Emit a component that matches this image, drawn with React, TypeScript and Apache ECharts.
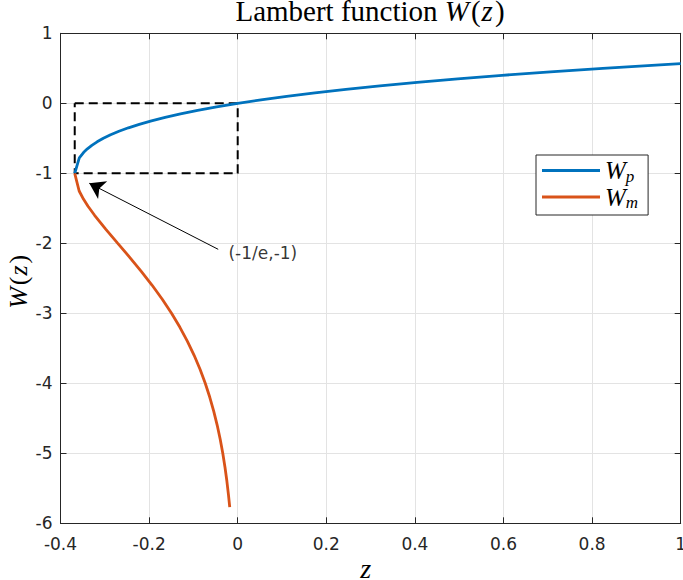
import React, { useEffect, useRef } from "react";
import * as echarts from "echarts";

// Axis ranges / ticks
const xMin = -0.4;
const xMax = 1;
const xStep = 0.2;
const yMin = -6;
const yMax = 1;
const yStep = 1;

// Upper branch W_p (z, W)
const wpZ = [-0.36788, -0.35756, -0.34761, -0.33933, -0.32929, -0.31732, -0.30327, -0.28693, -0.26813, -0.24664, -0.22225, -0.1947, -0.16375, -0.12911, -0.09048, -0.04756, 0, 0.05256, 0.11052, 0.17427, 0.24428, 0.32101, 0.40496, 0.49667, 0.59673, 0.70574, 0.82436, 0.95329, 1.0];
const wpW = [-1, -0.78, -0.7, -0.65, -0.6, -0.55, -0.5, -0.45, -0.4, -0.35, -0.3, -0.25, -0.2, -0.15, -0.1, -0.05, 0, 0.05, 0.1, 0.15, 0.2, 0.25, 0.3, 0.35, 0.4, 0.45, 0.5, 0.55, 0.5671];

// Lower branch W_m (z, W)
const wmZ = [-0.36788, -0.35788, -0.34788, -0.33788, -0.32304, -0.29754, -0.27067, -0.24377, -0.21772, -0.19311, -0.17027, -0.14936, -0.13044, -0.11347, -0.09836, -0.08501, -0.07326, -0.063, -0.05403, -0.04624, -0.0395, -0.03369, -0.02869, -0.02439, -0.02071, -0.01799];
const wmW = [-1, -1.253, -1.372, -1.471, -1.6, -1.8, -2.0, -2.2, -2.4, -2.6, -2.8, -3.0, -3.2, -3.4, -3.6, -3.8, -4.0, -4.2, -4.4, -4.6, -4.8, -5.0, -5.2, -5.4, -5.6, -5.77];

// Dashed box corners
const boxZ = [-0.36788, 0, 0, -0.36788, -0.36788];
const boxW = [0, 0, -1, -1, 0];

// Annotation
const arrowTail = [-0.044, -2.086];
const arrowHead = [-0.335, -1.143];
const noteAnchor = [-0.031, -2.143];
const noteText = "(-1/e,-1)";

const seriesNames = ["Wp", "Wm"];
const legendSubs = ["p", "m"];

const axisColor = "#262626";
const gridColor = "#e3e3e3";
const serif = "Liberation Serif";
const sans = "DejaVu Sans";

const fmt = (v: number) => String(Number(v.toFixed(1)));

export default function App() {
  const ref = useRef<HTMLDivElement>(null);
  useEffect(() => {
    if (!ref.current) return;
    const chart = echarts.init(ref.current, null, { renderer: "svg" });
    const mk = (size: number, style: string) => ({ fontFamily: serif, fontStyle: style, fontWeight: "normal", fontSize: size, color: "#000" });
    const mathRich = (size: number, lh: number) => ({
      n: { ...mk(size, "normal"), lineHeight: lh },
      i: { ...mk(size, "italic"), lineHeight: lh },
      lp: { ...mk(size, "normal"), lineHeight: lh, padding: [0, 1, 0, 2] },
      rp: { ...mk(size, "normal"), lineHeight: lh, padding: [0, 0, 0, 2] },
    });
    const option: any = {
      animation: false,
      backgroundColor: "#fff",
      title: {
        text: "{n|Lambert function }{i|W}{lp|(}{i|z}{rp|)}",
        left: 370,
        top: 0,
        padding: 0,
        textAlign: "center",
        textStyle: { fontWeight: "normal", rich: mathRich(29, 22) },
      },
      grid: { left: 60.5, right: 2.3, top: 33.3, bottom: 56.7, show: false, outerBoundsMode: "none", containLabel: false },
      legend: {
        data: seriesNames.map((n) => ({ name: n, icon: "rect" })),
        left: 536,
        top: 155,
        orient: "vertical",
        itemWidth: 58,
        itemHeight: 3,
        itemGap: 0,
        padding: [3, 10, 4, 6],
        backgroundColor: "#fff",
        borderColor: axisColor,
        borderWidth: 1,
        borderRadius: 0,
        selectedMode: false,
        formatter: (name: string) => `{i|W}{s|${legendSubs[seriesNames.indexOf(name)]}}`,
        textStyle: {
          rich: {
            i: { ...mk(25, "italic"), lineHeight: 28 },
            s: { ...mk(17, "italic"), lineHeight: 17, verticalAlign: "bottom" },
          },
        },
      },
      xAxis: [
        {
          type: "value",
          min: xMin,
          max: xMax,
          interval: xStep,
          position: "bottom",
          axisLine: { show: true, onZero: false, lineStyle: { color: axisColor, width: 1 } },
          axisTick: { show: true, inside: true, length: 6, lineStyle: { color: axisColor } },
          axisLabel: { show: true, margin: 12, color: axisColor, fontFamily: sans, fontSize: 17, formatter: fmt },
          splitLine: { show: true, lineStyle: { color: gridColor, width: 1 } },
          name: "{i|z}",
          nameLocation: "middle",
          nameGap: 35,
          nameMoveOverlap: false,
          nameTextStyle: { padding: [0, 10, 0, 0], rich: { i: { ...mk(28, "italic"), lineHeight: 20 } } },
        },
        {
          type: "value",
          min: xMin,
          max: xMax,
          interval: xStep,
          position: "top",
          axisLine: { show: true, onZero: false, lineStyle: { color: axisColor, width: 1 } },
          axisTick: { show: true, inside: true, length: 6, lineStyle: { color: axisColor } },
          axisLabel: { show: false },
          splitLine: { show: false },
        },
      ],
      yAxis: [
        {
          type: "value",
          min: yMin,
          max: yMax,
          interval: yStep,
          position: "left",
          axisLine: { show: true, onZero: false, lineStyle: { color: axisColor, width: 1 } },
          axisTick: { show: true, inside: true, length: 6, lineStyle: { color: axisColor } },
          axisLabel: { show: true, margin: 8, color: axisColor, fontFamily: sans, fontSize: 17, formatter: fmt },
          splitLine: { show: true, lineStyle: { color: gridColor, width: 1 } },
          name: "{i|W}{lp|(}{i|z}{rp|)}",
          nameLocation: "middle",
          nameGap: 30,
          nameMoveOverlap: false,
          nameRotate: 90,
          nameTextStyle: { padding: [0, 7, 0, 0], rich: mathRich(26, 24) },
        },
        {
          type: "value",
          min: yMin,
          max: yMax,
          interval: yStep,
          position: "right",
          axisLine: { show: true, onZero: false, lineStyle: { color: axisColor, width: 1 } },
          axisTick: { show: true, inside: true, length: 6, lineStyle: { color: axisColor } },
          axisLabel: { show: false },
          splitLine: { show: false },
        },
      ],
      series: [
        {
          name: "box",
          type: "line",
          data: boxZ.map((z, i) => [z, boxW[i]]),
          symbol: "none",
          silent: true,
          lineStyle: { color: "#000", width: 2, type: [9, 5] },
          z: 2,
        },
        {
          name: "Wp",
          type: "line",
          data: wpZ.map((z, i) => [z, wpW[i]]),
          symbol: "none",
          lineStyle: { color: "#0072BD", width: 2.8 },
          itemStyle: { color: "#0072BD" },
          z: 3,
        },
        {
          name: "Wm",
          type: "line",
          data: wmZ.map((z, i) => [z, wmW[i]]),
          symbol: "none",
          lineStyle: { color: "#D95319", width: 2.8 },
          itemStyle: { color: "#D95319" },
          z: 3,
        },
        {
          name: "note",
          type: "scatter",
          data: [noteAnchor],
          symbolSize: 1,
          itemStyle: { color: "rgba(0,0,0,0)" },
          silent: true,
          label: {
            show: true,
            position: "right",
            distance: 4,
            formatter: noteText,
            fontFamily: sans,
            fontSize: 17,
            color: "#000",
          },
          markLine: {
            silent: true,
            symbol: ["none", "arrow"],
            symbolSize: 15,
            label: { show: false },
            lineStyle: { color: "#000", width: 1, type: "solid" },
            data: [[{ coord: arrowTail }, { coord: arrowHead }]],
          },
          z: 4,
        },
      ],
    };
    chart.setOption(option);
    return () => chart.dispose();
  }, []);
  return (
    <div
      ref={ref}
      style={{ position: "fixed", left: 0, top: 0, width: 683, height: 580, background: "#fff" }}
    />
  );
}
